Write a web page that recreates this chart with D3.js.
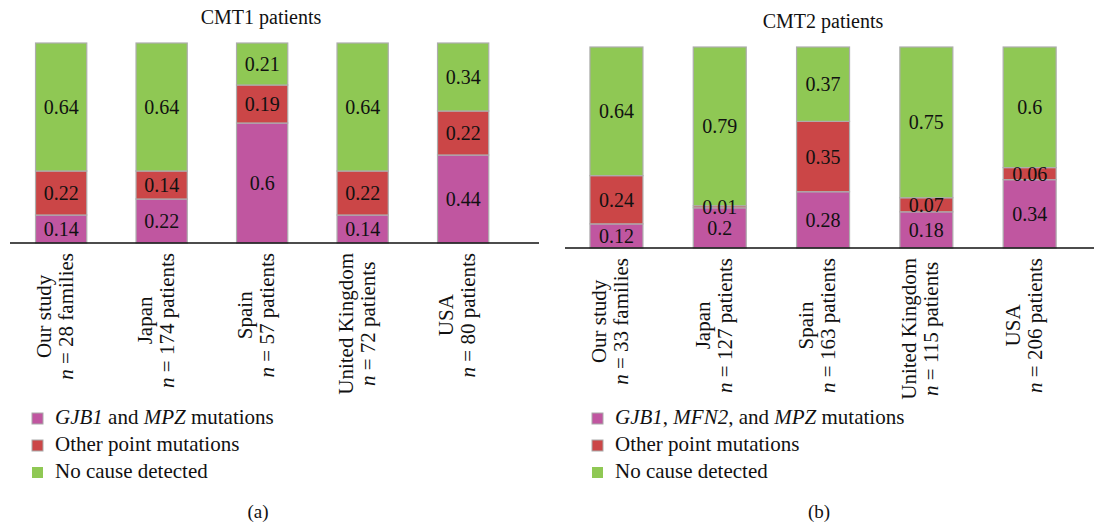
<!DOCTYPE html>
<html lang="en">
<head>
  <meta charset="utf-8">
  <title>CMT1 / CMT2 patients</title>
  <style>
    body { margin: 0; background: #fff; }
    svg text { font-family: "Liberation Serif", "Times New Roman", "DejaVu Serif", serif; }
  </style>
</head>
<body>
  <div id="chart"></div>
  <script src="https://d3js.org/d3.v7.min.js"></script>
  <script>
const countries = ["Our study", "Japan", "Spain", "United Kingdom", "USA"];

const nCmt1 = ["28 families", "174 patients", "57 patients", "72 patients", "80 patients"];
const knownCmt1 = [0.14, 0.22, 0.6, 0.14, 0.44];
const otherCmt1 = [0.22, 0.14, 0.19, 0.22, 0.22];
const noneCmt1 = [0.64, 0.64, 0.21, 0.64, 0.34];

const nCmt2 = ["33 families", "127 patients", "163 patients", "115 patients", "206 patients"];
const knownCmt2 = [0.12, 0.2, 0.28, 0.18, 0.34];
const otherCmt2 = [0.24, 0.01, 0.35, 0.07, 0.06];
const noneCmt2 = [0.64, 0.79, 0.37, 0.75, 0.6];

const keys = ["known", "other", "none"];
const colors = { known: "#c056a0", other: "#cb4647", none: "#8fc854" };
const serif = "'Liberation Serif', 'Times New Roman', 'DejaVu Serif', serif";

const width = 1094, height = 527;

const svg = d3.select("#chart").append("svg")
    .attr("width", width)
    .attr("height", height)
    .attr("font-family", serif);

function drawPanel(opt) {
    const rows = countries.map((c, i) => ({
        country: c, n: opt.n[i],
        known: opt.known[i], other: opt.other[i], none: opt.none[i]
    }));
    const series = d3.stack().keys(keys)(rows);

    const x = d3.scaleBand()
        .domain(countries)
        .range(opt.xRange)
        .paddingInner(opt.pad)
        .paddingOuter(opt.pad / 2);
    const y = d3.scaleLinear().domain([0, 1]).range([opt.base, opt.top]);

    const g = svg.append("g");

    g.append("text")
        .attr("x", opt.titleX)
        .attr("y", opt.titleY)
        .attr("text-anchor", "middle")
        .attr("fill", "#111")
        .style("font-size", "20px")
        .text(opt.title);

    g.selectAll("g.layer")
        .data(series)
        .join("g")
        .attr("class", "layer")
        .attr("fill", d => colors[d.key])
      .selectAll("rect")
        .data(d => d)
        .join("rect")
        .attr("x", d => x(d.data.country))
        .attr("width", x.bandwidth())
        .attr("y", d => y(d[1]))
        .attr("height", d => y(d[0]) - y(d[1]))
        .attr("stroke", "#adadad")
        .attr("stroke-width", 1.2);

    // value labels on top of every segment
    const labels = series.flatMap(s => s.map(v => ({ v, key: s.key })));
    g.append("g").selectAll("text")
        .data(labels)
        .join("text")
        .attr("x", d => x(d.v.data.country) + x.bandwidth() / 2)
        .attr("y", d => (y(d.v[0]) + y(d.v[1])) / 2 + 7)
        .attr("text-anchor", "middle")
        .attr("fill", "#111")
        .style("font-size", "20px")
        .text(d => d.v.data[d.key]);

    g.append("line")
        .attr("x1", opt.axisX[0]).attr("x2", opt.axisX[1])
        .attr("y1", opt.base).attr("y2", opt.base)
        .attr("stroke", "#111")
        .attr("stroke-width", 1.3);

    // rotated two-line category labels
    rows.forEach(r => {
        const cx = x(r.country) + x.bandwidth() / 2;
        const lab = g.append("g").attr("fill", "#111");
        const t1 = lab.append("text")
            .attr("text-anchor", "middle")
            .attr("y", -10)
            .style("font-size", "21px")
            .text(r.country);
        const t2 = lab.append("text")
            .attr("text-anchor", "middle")
            .attr("y", 12)
            .style("font-size", "21px");
        t2.append("tspan").style("font-style", "italic").text("n");
        t2.append("tspan").text(" = " + r.n);
        const w = Math.max(t1.node().getComputedTextLength(), t2.node().getComputedTextLength());
        lab.attr("transform", `translate(${cx},${opt.base + 10 + w / 2}) rotate(-90)`);
    });

    // legend
    const leg = g.append("g");
    opt.legend.forEach((parts, i) => {
        const ly = 424 + i * 27;
        leg.append("rect")
            .attr("x", opt.legendX)
            .attr("y", ly - 11)
            .attr("width", 11)
            .attr("height", 11)
            .attr("fill", colors[keys[i]])
            .attr("stroke", i < 2 ? "#aaaaaa" : "none")
            .attr("stroke-width", 1);
        const t = leg.append("text")
            .attr("x", opt.legendX + 23)
            .attr("y", ly)
            .attr("fill", "#111")
            .style("font-size", "21px");
        parts.forEach(p => {
            t.append("tspan")
                .style("font-style", p[1] ? "italic" : "normal")
                .text(p[0]);
        });
    });

    g.append("text")
        .attr("x", opt.subX)
        .attr("y", 518)
        .attr("text-anchor", "middle")
        .attr("fill", "#111")
        .style("font-size", "19px")
        .text(opt.sub);
}

drawPanel({
    title: "CMT1 patients", titleX: 261, titleY: 24,
    n: nCmt1, known: knownCmt1, other: otherCmt1, none: noneCmt1,
    xRange: [10.9, 513.4], pad: 0.49,
    base: 243, top: 43, axisX: [10, 539],
    legendX: 32,
    legend: [[["GJB1", true], [" and ", false], ["MPZ", true], [" mutations", false]],
             [["Other point mutations", false]],
             [["No cause detected", false]]],
    sub: "(a)", subX: 258
});

drawPanel({
    title: "CMT2 patients", titleX: 823, titleY: 28,
    n: nCmt2, known: knownCmt2, other: otherCmt2, none: noneCmt2,
    xRange: [564.8, 1081.3], pad: 0.487,
    base: 248, top: 47, axisX: [565, 1094],
    legendX: 592,
    legend: [[["GJB1", true], [", ", false], ["MFN2", true], [", and ", false], ["MPZ", true], [" mutations", false]],
             [["Other point mutations", false]],
             [["No cause detected", false]]],
    sub: "(b)", subX: 819
});
  </script>
</body>
</html>
